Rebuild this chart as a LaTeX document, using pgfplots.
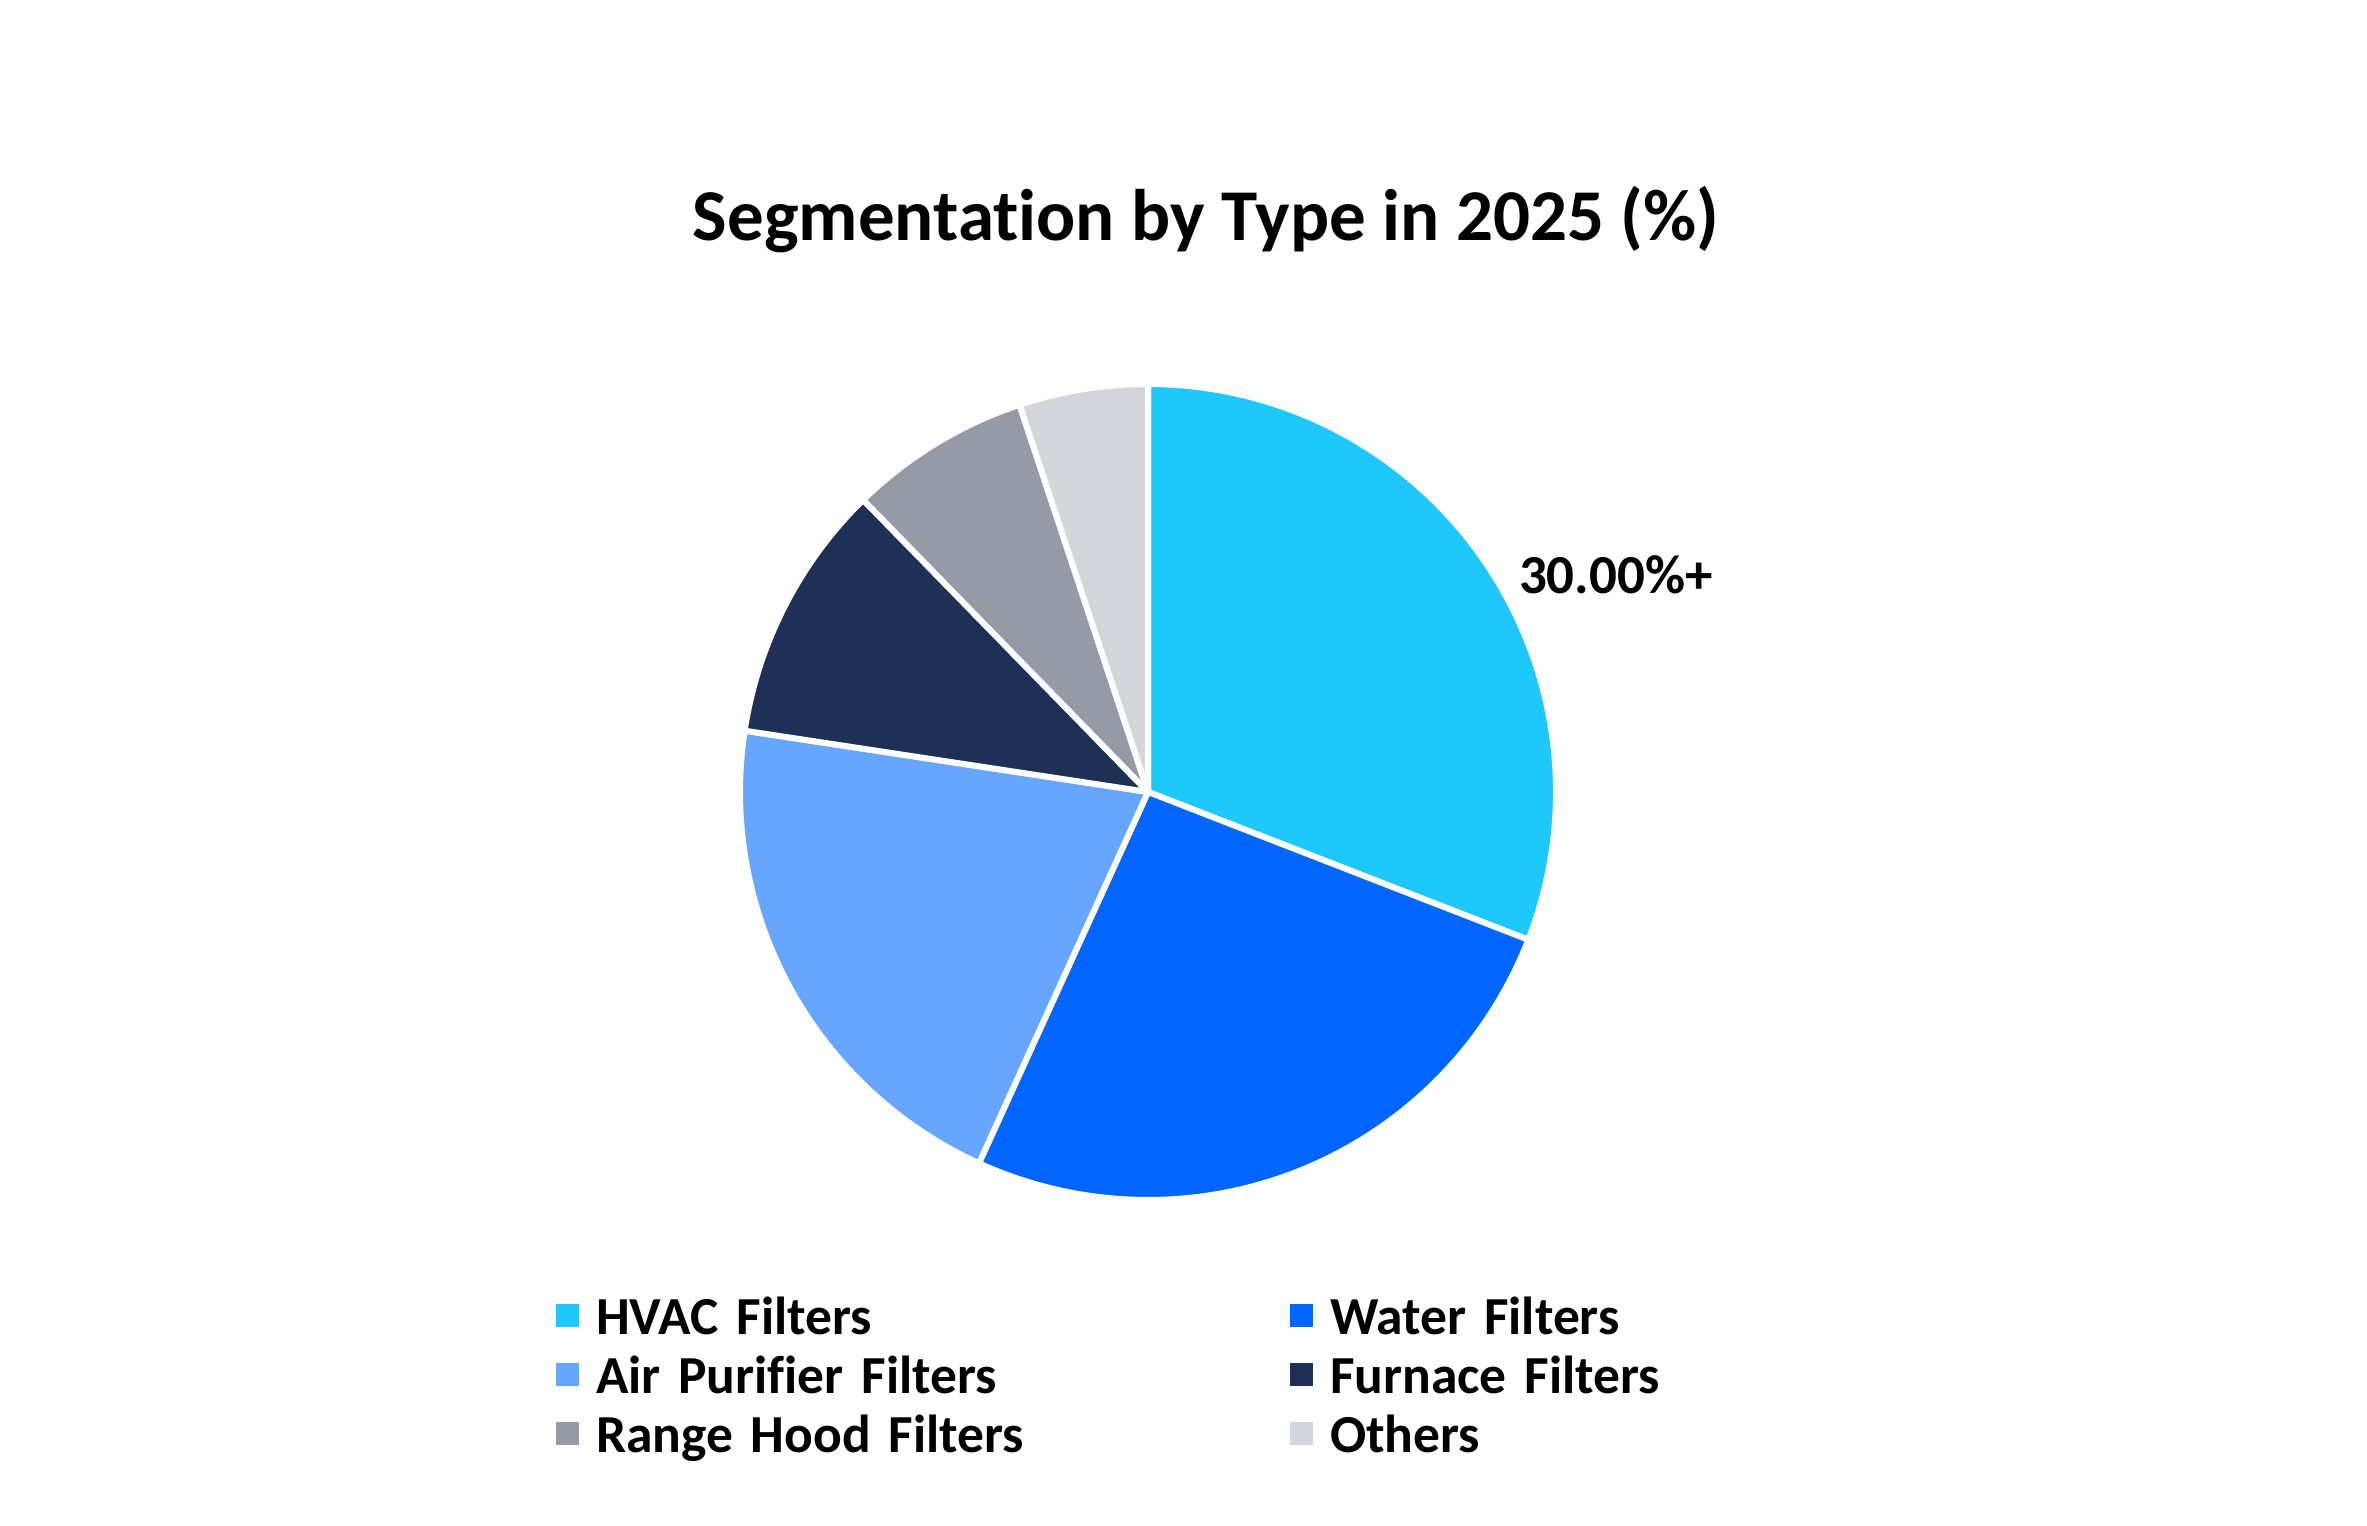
\documentclass[border=0pt]{standalone}
\usepackage{fontspec}
\setmainfont[Ligatures=NoCommon]{Carlito}
\usepackage{pgfplots}
\pgfplotsset{compat=1.18}

\definecolor{cHVAC}{HTML}{1EC8FA}
\definecolor{cWater}{HTML}{0066FF}
\definecolor{cAir}{HTML}{66A6FF}
\definecolor{cFurn}{HTML}{1E3055}
\definecolor{cRange}{HTML}{959AA6}
\definecolor{cOther}{HTML}{D4D6DC}

\begin{document}
\begin{tikzpicture}
\useasboundingbox (0,0) rectangle (473.4pt,305pt);
\begin{axis}[
    hide axis,
    scale only axis,
    width=473.4pt, height=305pt,
    xmin=0, xmax=2367, ymin=0, ymax=1525,
    clip=false,
    legend columns=2,
    legend cell align=left,
    legend image code/.code={\fill[#1, draw=none] (0pt,-1pt) rectangle (4.6pt,3.6pt);},
    legend style={
        at={(0.2345,0.1521)}, anchor=north west,
        draw=none, fill=none, inner sep=0pt,
        font=\fontsize{10.7}{13}\selectfont\bfseries,
        row sep=0.8pt,
        nodes={text height=7.5pt, text depth=2.5pt, inner ysep=0.5pt, inner xsep=1pt},
        /tikz/every odd column/.append style={column sep=2.4pt},
        /tikz/every even column/.append style={column sep=0pt, text width=137.8pt},
    },
]
% share of each type (%), clockwise from 12 o'clock
\def\start{90}
\foreach \v/\c/\n in {30.9/cHVAC/HVAC Filters, 25.9/cWater/Water Filters,
    20.6/cAir/Air Purifier Filters, 10.3/cFurn/Furnace Filters,
    7.2/cRange/Range Hood Filters, 5.1/cOther/Others}{
  \pgfmathsetmacro\endang{\start-3.6*\v}
  \edef\temp{\noexpand\addplot[fill=\c, draw=white, line width=1.2pt, line join=round,
      domain=\endang:\start, samples=90]
      ({1148+408*cos(x)},{733+408*sin(x)}) -- (axis cs:1148,733) -- cycle;
    \noexpand\addlegendentry{\n}}
  \temp
  \xdef\start{\endang}
}
\node[anchor=base, font=\fontsize{14.6}{17}\selectfont\bfseries]
    at (axis cs:1206,1284) {Segmentation by Type in 2025 (\%)};
\node[anchor=base west, inner sep=0pt, font=\fontsize{11}{13}\selectfont\bfseries]
    at (axis cs:1518,931) {30.00\%+};
\end{axis}
\end{tikzpicture}
\end{document}
